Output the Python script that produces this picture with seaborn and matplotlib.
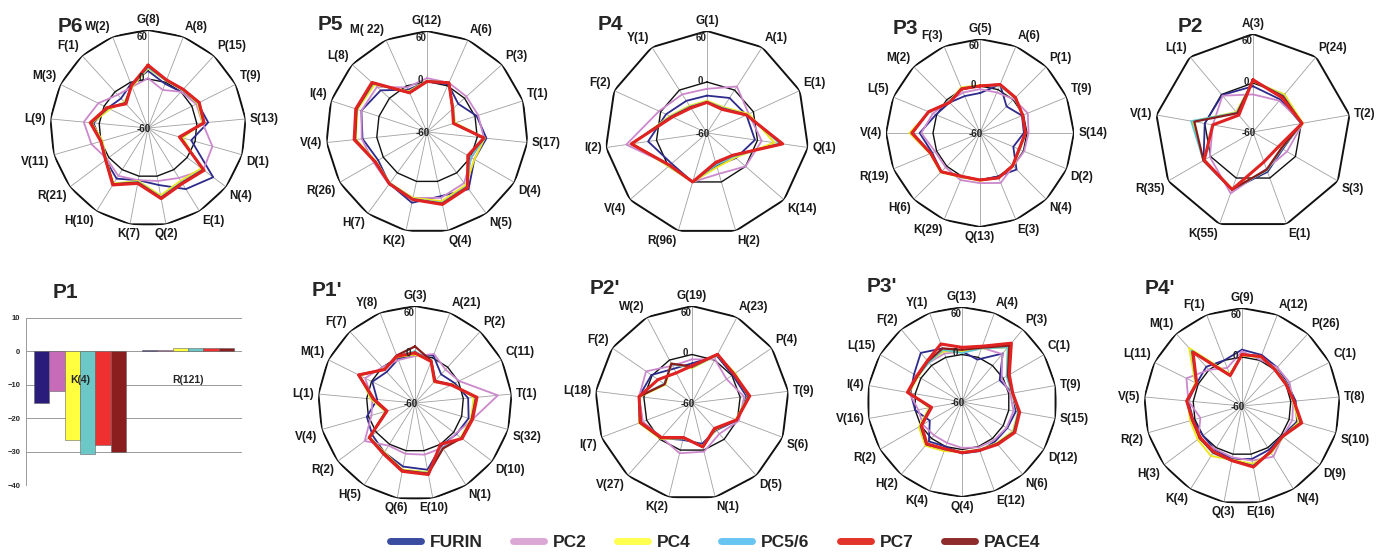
import numpy as np
import pandas as pd
import matplotlib
matplotlib.use('Agg')
import matplotlib.pyplot as plt
from matplotlib.lines import Line2D
import seaborn as sns

sns.set_style('white')
plt.rcParams['font.family'] = ['Liberation Sans', 'DejaVu Sans']

W, H = 1383, 558

enzymes = ['FURIN', 'PC2', 'PC4', 'PC5/6', 'PC7', 'PACE4']
line_colors = ['#2d2a8c', '#cc88cc', '#f2e61a', '#5ec8d2', '#e02222', '#8b1c1c']
legend_colors = ['#3a4ca0', '#dba8d5', '#ffff50', '#68c4f0', '#e3342b', '#8e2b2b']
bar_colors = ['#2a1c7a', '#c76bb8', '#ffff40', '#6cc7c7', '#ee3030', '#8a1e1e']

# ---- P6 ----
p6_sites = ['G(8)', 'A(8)', 'P(15)', 'T(9)', 'S(13)', 'D(1)', 'N(4)', 'E(1)', 'Q(2)',
            'K(7)', 'H(10)', 'R(21)', 'V(11)', 'L(9)', 'M(3)', 'F(1)', 'W(2)']
p6_furin = [10, -2, 0, 8, 14, -5, 40, 28, 11, 5, 13, 5, 0, 7, -5, -11, -2]
p6_pc2 = [1, -10, 0, 6, 7, 22, 25, 12, 6, 5, 9, 3, 12, 19, 8, -5, -6]
p6_pc4 = [13, 2, 3, 8, 7, -16, 22, 16, 24, 6, 20, 4, -2, 9, -8, -17, -6]
p6_pc56 = [14, 2, 3, 9, 8, -18, 24, 18, 26, 7, 21, 4, -1, 10, -6, -18, -5]
p6_pc7 = [17, 3, 4, 10, 9, -20, 26, 20, 28, 9, 22, 5, 0, 11, -4, -20, -4]
p6_pace4 = [16, 3, 4, 10, 9, -19, 25, 19, 27, 8, 21, 5, 0, 10, -5, -19, -4]

# ---- P5 ----
p5_sites = ['G(12)', 'A(6)', 'P(3)', 'T(1)', 'S(17)', 'D(4)', 'N(5)', 'Q(4)', 'K(2)',
            'H(7)', 'R(26)', 'V(4)', 'I(4)', 'L(8)', 'M( 22)']
p5_furin = [0, 2, -10, 2, 11, 5, 24, 18, 26, 16, 7, 17, 22, 14, -5]
p5_pc2 = [4, 4, 3, 4, 8, 1, 15, 20, 20, 17, 13, 18, 22, 20, -2]
p5_pc4 = [1, 4, -18, -25, 9, 5, 18, 24, 20, 15, 10, 25, 27, 24, -7]
p5_pc56 = [1, 4, -18, -26, 9, 0, 20, 26, 21, 15, 11, 26, 28, 26, -8]
p5_pc7 = [0, 4, -19, -27, 8, -4, 22, 28, 22, 16, 11, 27, 29, 28, -9]
p5_pace4 = [0, 4, -19, -27, 8, -3, 21, 27, 22, 16, 11, 26, 28, 27, -9]

# ---- P4 ----
p4_sites = ['G(1)', 'A(1)', 'E(1)', 'Q(1)', 'K(14)', 'H(2)', 'R(96)', 'V(4)', 'I(2)', 'F(2)', 'Y(1)']
p4_furin = [-16, -11, -9, -3, -15, -20, 0, -5, 10, -7, -15]
p4_pc2 = [-8, 5, -6, 5, 0, -10, 0, -2, 36, 2, -6]
p4_pc4 = [-22, -24, -6, 20, -16, -18, 0, 0, 28, -12, -22]
p4_pc56 = [-23, -25, -8, 26, -18, -21, 0, -1, 29, -13, -23]
p4_pc7 = [-24, -27, -9, 30, -20, -24, 0, -2, 30, -15, -25]
p4_pace4 = [-24, -26, -9, 29, -20, -23, 0, -2, 30, -14, -24]

# ---- P3 ----
p3_sites = ['G(5)', 'A(6)', 'P(1)', 'T(9)', 'S(14)', 'D(2)', 'N(4)', 'E(3)', 'Q(13)',
            'K(29)', 'H(6)', 'R(19)', 'V(4)', 'L(5)', 'M(2)', 'F(3)']
p3_furin = [-9, 7, -12, -2, -4, -14, 6, 0, 0, 1, 10, 6, 17, 1, -5, -9]
p3_pc2 = [-4, -4, 1, 6, 2, 1, 0, 9, 4, 5, 2, 2, 15, 5, -3, -4]
p3_pc4 = [1, 6, 3, -1, -2, -5, 0, 2, 1, 1, 11, 9, 30, 10, -4, 3]
p3_pc56 = [0, 6, 3, -1, -2, -5, -1, 2, 0, 0, 10, 8, 28, 10, -4, 2]
p3_pc7 = [0, 7, 4, -1, -2, -6, -1, 2, 0, 0, 10, 8, 27, 11, -5, 1]
p3_pace4 = [0, 7, 4, -1, -2, -6, -1, 2, 0, 0, 10, 8, 26, 11, -5, 1]

# ---- P2 ----
p2_sites = ['A(3)', 'P(24)', 'T(2)', 'S(3)', 'E(1)', 'K(55)', 'R(35)', 'V(1)', 'L(1)']
p2_furin = [-4, -8, 0, -18, -8, 15, 10, 0, -1]
p2_pc2 = [-14, -10, 2, -12, -12, 20, 1, -10, -2]
p2_pc4 = [2, 0, 2, -20, -10, 14, 10, 15, -28]
p2_pc56 = [3, -2, 1, -19, -10, 15, 10, 17, -29]
p2_pc7 = [4, -5, 1, -24, -21, 15, 9, -10, -33]
p2_pace4 = [3, -3, 1, -20, -11, 15, 10, 13, -30]

# ---- P1 (bars) ----
p1_sites = ['K(4)', 'R(121)']
p1_k = [-15.3, -12.0, -26.5, -30.7, -28.0, -30.0]
p1_r = [0.5, 0.3, 1.0, 1.0, 1.0, 1.0]

# ---- P1' ----
p1p_sites = ['G(3)', 'A(21)', 'P(2)', 'C(11)', 'T(1)', 'S(32)', 'D(10)', 'N(1)', 'E(10)',
             'Q(6)', 'H(5)', 'R(2)', 'V(4)', 'L(1)', 'M(1)', 'F(7)', 'Y(8)']
p1p_furin = [0, 3, -12, -5, 6, 9, 4, 2, 24, 20, 12, 6, 2, -13, -1, -8, -2]
p1p_pc2 = [-2, 5, -4, 1, 43, 14, 3, 5, 5, 4, 2, 18, -4, -7, 9, 0, -3]
p1p_pc4 = [0, -4, -25, -8, 13, 12, 11, 6, 27, 24, 12, 10, -22, -5, 16, -3, 1]
p1p_pc56 = [4, -4, -24, -9, 15, 13, 12, 5, 28, 25, 13, 10, -23, -7, 17, -4, 2]
p1p_pc7 = [2, -5, -24, -10, 17, 14, 13, 0, 30, 26, 14, 11, -24, -9, 18, -4, 2]
p1p_pace4 = [10, -4, -23, -9, 16, 13, 12, 6, 29, 25, 13, 11, -23, -8, 18, -4, 3]

# ---- P2' ----
p2p_sites = ['G(19)', 'A(23)', 'P(4)', 'T(9)', 'S(6)', 'D(5)', 'N(1)', 'K(2)', 'V(27)',
             'I(7)', 'L(18)', 'F(2)', 'W(2)']
p2p_furin = [-11, 6, 1, 8, 0, -15, -8, -13, -2, 6, 6, 1, -12]
p2p_pc2 = [-6, 1, -8, 5, 2, -9, 2, 4, -3, 5, 6, 9, -8]
p2p_pc4 = [-17, 7, 5, 10, -2, -16, -5, -15, -1, 10, 5, -20, -5]
p2p_pc56 = [-16, 7, 4, 10, -1, -17, -5, -15, -2, 9, 6, -18, -6]
p2p_pc7 = [-14, 8, 3, 12, -1, -18, -4, -16, -3, 8, 6, -9, -18]
p2p_pace4 = [-15, 8, 3, 11, -1, -17, -4, -16, -2, 9, 6, -19, -5]

# ---- P3' ----
p3p_sites = ['G(13)', 'A(4)', 'P(3)', 'C(1)', 'T(9)', 'S(15)', 'D(12)', 'N(6)', 'E(12)',
             'Q(4)', 'K(4)', 'H(2)', 'R(2)', 'V(16)', 'I(4)', 'L(15)', 'F(2)', 'Y(1)']
p3p_furin = [4, -3, 20, -5, 5, 9, 6, 5, 6, 5, 0, 5, -13, 0, 6, 10, 21, 12]
p3p_pc2 = [4, 13, 19, -2, 2, 6, 5, 3, 1, -2, -5, -5, -3, -4, 8, 6, 5, 5]
p3p_pc4 = [4, 12, 30, 6, 4, 12, 14, 8, 4, 3, 6, 12, 3, -18, 8, 4, 6, 8]
p3p_pc56 = [2, 12, 30, 5, 4, 12, 15, 9, 4, 4, 4, 10, 1, -19, 9, 5, 5, 10]
p3p_pc7 = [9, 15, 37, 9, 5, 14, 17, 10, 5, 4, 3, 9, -1, -21, 10, 6, 8, 18]
p3p_pace4 = [6, 13, 33, 7, 5, 13, 16, 9, 5, 4, 3, 10, 0, -20, 9, 5, 7, 12]

# ---- P4' ----
p4p_sites = ['G(9)', 'A(12)', 'P(26)', 'C(1)', 'T(8)', 'S(10)', 'D(9)', 'N(4)', 'E(16)',
             'Q(3)', 'K(4)', 'H(3)', 'R(2)', 'V(5)', 'L(11)', 'M(1)', 'F(1)']
p4p_furin = [9, 7, 4, 2, 6, 10, 1, 3, 6, 6, 3, 0, 2, 6, 2, 5, 0]
p4p_pc2 = [7, 1, 4, 5, 3, 4, 2, 13, 8, 4, 2, 7, -7, 6, 16, 0, -10]
p4p_pc4 = [2, 4, 1, 1, 3, 12, 3, 8, 12, 7, 12, 8, 6, 7, 4, 36, -18]
p4p_pc56 = [3, 5, 1, 1, 4, 14, 3, 7, 14, 8, 8, 5, 4, 8, 3, 32, -19]
p4p_pc7 = [3, 5, 0, 0, 4, 16, 2, 6, 16, 8, 6, 4, 3, 8, 2, 29, -20]
p4p_pace4 = [3, 5, 0, 0, 4, 15, 2, 6, 15, 8, 7, 5, 3, 8, 2, 30, -20]

# panel title, sites, series (in enzyme order), centre x/y and radius in px, title position px
panels = [
    ('P6', p6_sites, [p6_furin, p6_pc2, p6_pc4, p6_pc56, p6_pc7, p6_pace4], (148, 128, 98), (70, 26)),
    ('P5', p5_sites, [p5_furin, p5_pc2, p5_pc4, p5_pc56, p5_pc7, p5_pace4], (427, 132, 101), (330, 25)),
    ('P4', p4_sites, [p4_furin, p4_pc2, p4_pc4, p4_pc56, p4_pc7, p4_pace4], (707, 133, 102), (610, 25)),
    ('P3', p3_sites, [p3_furin, p3_pc2, p3_pc4, p3_pc56, p3_pc7, p3_pace4], (980, 133, 94), (905, 28)),
    ('P2', p2_sites, [p2_furin, p2_pc2, p2_pc4, p2_pc56, p2_pc7, p2_pace4], (1253, 132, 98), (1190, 27)),
    ("P1'", p1p_sites, [p1p_furin, p1p_pc2, p1p_pc4, p1p_pc56, p1p_pc7, p1p_pace4], (415, 403, 97), (327, 290)),
    ("P2'", p2p_sites, [p2p_furin, p2p_pc2, p2p_pc4, p2p_pc56, p2p_pc7, p2p_pace4], (692, 403, 97), (605, 288)),
    ("P3'", p3p_sites, [p3p_furin, p3p_pc2, p3p_pc4, p3p_pc56, p3p_pc7, p3p_pace4], (962, 402, 95), (882, 287)),
    ("P4'", p4p_sites, [p4p_furin, p4p_pc2, p4p_pc4, p4p_pc56, p4p_pc7, p4p_pace4], (1242, 406, 98), (1160, 288)),
]

draw_order = [0, 1, 2, 3, 5, 4]   # red PC7 drawn last, on top
line_widths = [1.3, 1.3, 1.4, 1.3, 1.6, 2.2]

fig = plt.figure(figsize=(W / 100, H / 100), dpi=100)


def radar(ax, sites, series):
    n = len(sites)
    theta = np.linspace(0, 2 * np.pi, n, endpoint=False)
    closed = np.append(theta, theta[0])
    ax.set_theta_zero_location('N')
    ax.set_theta_direction(-1)
    ax.axis('off')
    for t in theta:
        ax.plot([t, t], [-60, 60], color='#a0a0a0', lw=0.6, zorder=1)
    ax.plot(closed, np.full(n + 1, 60), color='#111111', lw=1.4, zorder=2)
    ax.plot(closed, np.full(n + 1, 0), color='#111111', lw=1.0, zorder=2)
    for k, i in enumerate(draw_order):
        vals = list(series[i]) + [series[i][0]]
        df = pd.DataFrame({'theta': closed, 'value': vals})
        sns.lineplot(data=df, x='theta', y='value', sort=False, estimator=None,
                     color=line_colors[i], lw=line_widths[k], ax=ax, zorder=3 + k)
    ax.set_ylim(-60, 60)
    for t, lab in zip(theta, sites):
        s, c = np.sin(t), np.cos(t)
        ha = 'left' if s > 0.2 else ('right' if s < -0.2 else 'center')
        va = 'bottom' if c > 0.2 else ('top' if c < -0.2 else 'center')
        ax.annotate(lab, xy=(t, 60), xytext=(s * 3, c * 3), textcoords='offset points',
                    ha=ha, va=va, fontsize=8.5, fontweight='bold', color='#1a1a1a',
                    annotation_clip=False)
    for r, lab, off in [(60, '60', (-4, -5)), (0, '0', (-5, 1)), (-60, '-60', (-3, -1))]:
        ax.annotate(lab, xy=(0, r), xytext=off, textcoords='offset points',
                    ha='center', va='center', fontsize=7, fontweight='bold',
                    color='#222222', annotation_clip=False, zorder=12)


for title, sites, series, (cx, cy, R), (tx, ty) in panels:
    ax = fig.add_axes([(cx - R) / W, 1 - (cy + R) / H, 2 * R / W, 2 * R / H], projection='polar')
    radar(ax, sites, series)
    fig.text(tx / W, 1 - ty / H, title, ha='center', va='center', fontsize=15, fontweight='bold')

# P1 bar chart
fig.text(65 / W, 1 - 293 / H, 'P1', ha='center', va='center', fontsize=15, fontweight='bold')
axb = fig.add_axes([26 / W, 1 - 485 / H, 216 / W, 167 / H])
bar_df = pd.DataFrame({
    'site': [p1_sites[0]] * 6 + [p1_sites[1]] * 6,
    'enzyme': enzymes * 2,
    'value': p1_k + p1_r,
})
sns.barplot(data=bar_df, x='site', y='value', hue='enzyme', palette=bar_colors, saturation=1,
            width=0.86, edgecolor='#666666', linewidth=0.4, legend=False, ax=axb, zorder=3)
axb.set_ylim(-40, 10)
axb.set_xlim(-0.5, 1.5)
axb.set_yticks([-40, -30, -20, -10, 0, 10])
axb.yaxis.grid(True, color='#9a9a9a', lw=0.7)
axb.set_axisbelow(True)
axb.tick_params(axis='y', labelsize=5.5, length=0, pad=4)
for lab in axb.get_yticklabels():
    lab.set_fontweight('bold')
axb.set_xticks([])
axb.set_xlabel('')
axb.set_ylabel('')
for side in ['top', 'right', 'bottom']:
    axb.spines[side].set_visible(False)
axb.spines['left'].set_color('#9a9a9a')
axb.spines['left'].set_linewidth(0.7)
for i, lab in enumerate(p1_sites):
    axb.text(i, -8.5, lab, ha='center', va='center', fontsize=7.5, fontweight='bold', zorder=6)

# legend
handles = [Line2D([0], [0], color=c, lw=5) for c in legend_colors]
fig.legend(handles, enzymes, loc='center', bbox_to_anchor=(0.517, 0.028), ncol=6,
           frameon=False, handlelength=1.8, columnspacing=1.75, handletextpad=0.5,
           prop={'size': 12.5, 'weight': 'bold'})

fig.savefig('out.png', dpi=100)
